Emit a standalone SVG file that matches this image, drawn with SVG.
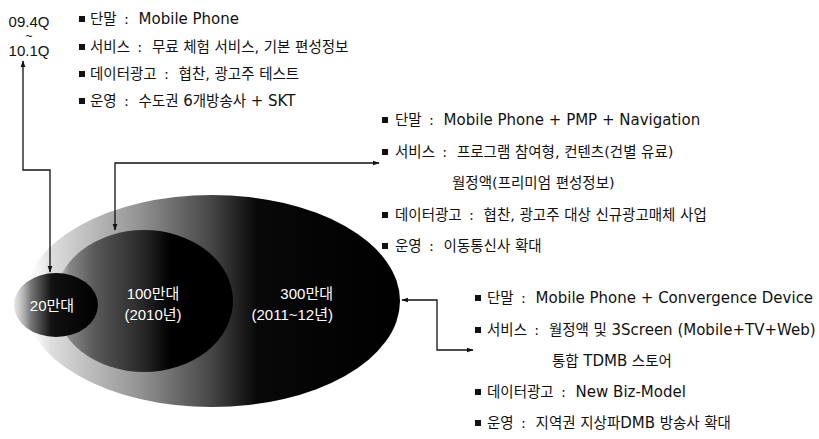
<svg xmlns="http://www.w3.org/2000/svg" width="819" height="439" viewBox="0 0 819 439">
<defs>
<style>
text{font-family:"DejaVu Sans","Noto Sans CJK KR",sans-serif;font-size:14.5px;fill:#111;dominant-baseline:central}
text.e{font-family:"Liberation Sans","Noto Sans CJK KR",sans-serif;font-size:15px;fill:#fff}
text.p{font-family:"Liberation Sans",sans-serif;font-size:15px}
text.t{font-family:"Liberation Sans",sans-serif;font-size:12px}
.c{letter-spacing:2.6px}
.L{font-size:15px}
.b{fill:#111}
.ln{fill:none;stroke:#111;stroke-width:1.3}
</style>
<marker id="ah" viewBox="0 0 10 10" refX="9" refY="5" markerWidth="7" markerHeight="7" orient="auto-start-reverse" markerUnits="userSpaceOnUse">
<path d="M0,1.5 L10,5 L0,8.5 Z" fill="#111"/>
</marker>
<linearGradient id="gBig" x1="0" y1="0" x2="1" y2="0">
<stop offset="0" stop-color="#fff" stop-opacity="0"/>
<stop offset="0.07" stop-color="#dedede"/>
<stop offset="0.3" stop-color="#959595"/>
<stop offset="0.5" stop-color="#454545"/>
<stop offset="0.62" stop-color="#080808"/>
<stop offset="1" stop-color="#000"/>
</linearGradient>
<linearGradient id="gMid" x1="0" y1="0" x2="1" y2="0">
<stop offset="0" stop-color="#ccc" stop-opacity="0.6"/>
<stop offset="0.08" stop-color="#888"/>
<stop offset="0.22" stop-color="#5a5a5a"/>
<stop offset="0.5" stop-color="#262626"/>
<stop offset="0.65" stop-color="#000"/>
<stop offset="1" stop-color="#000"/>
</linearGradient>
<linearGradient id="gSm" x1="0" y1="0" x2="1" y2="0">
<stop offset="0" stop-color="#ccc" stop-opacity="0.5"/>
<stop offset="0.2" stop-color="#777"/>
<stop offset="0.45" stop-color="#111"/>
<stop offset="1" stop-color="#000"/>
</linearGradient>
</defs>
<rect width="819" height="439" fill="#fff"/>

<g id="ellipse-300">
<ellipse cx="212" cy="301" rx="188" ry="106" fill="url(#gBig)"/>
<text class="e" x="333" y="293" text-anchor="end">300만대</text>
<text class="e" x="333" y="314" text-anchor="end">(2011~12년)</text>
</g>
<g id="ellipse-100">
<ellipse cx="144" cy="301" rx="89" ry="71" fill="url(#gMid)"/>
<text class="e" x="153" y="293" text-anchor="middle">100만대</text>
<text class="e" x="153" y="314" text-anchor="middle">(2010년)</text>
</g>
<g id="ellipse-20">
<ellipse cx="56" cy="305" rx="42" ry="32" fill="url(#gSm)"/>
<text class="e" x="52" y="305" text-anchor="middle">20만대</text>
</g>

<g id="period">
<text class="p" x="29" y="21" text-anchor="middle">09.4Q</text>
<text class="t" x="29" y="35.5" text-anchor="middle">~</text>
<text class="p" x="29" y="50" text-anchor="middle">10.1Q</text>
</g>

<g id="stage1">
<rect class="b" x="79" y="16" width="6" height="6"/>
<text x="90" y="19">단말<tspan class="c"> : </tspan><tspan class="L">Mobile Phone</tspan></text>
<rect class="b" x="79" y="44" width="6" height="6"/>
<text x="90" y="47">서비스<tspan class="c"> : </tspan>무료 체험 서비스, 기본 편성정보</text>
<rect class="b" x="79" y="71" width="6" height="6"/>
<text x="90" y="74">데이터광고<tspan class="c"> : </tspan>협찬, 광고주 테스트</text>
<rect class="b" x="79" y="98" width="6" height="6"/>
<text x="90" y="101">운영<tspan class="c"> : </tspan>수도권 <tspan class="L">6</tspan>개방송사 <tspan class="L">+ SKT</tspan></text>
</g>

<g id="stage2">
<rect class="b" x="382" y="117" width="6" height="6"/>
<text x="395" y="120">단말<tspan class="c"> : </tspan><tspan class="L">Mobile Phone + PMP + Navigation</tspan></text>
<rect class="b" x="382" y="149" width="6" height="6"/>
<text x="395" y="152">서비스<tspan class="c"> : </tspan>프로그램 참여형, 컨텐츠(건별 유료)</text>
<text x="452" y="183">월정액(프리미엄 편성정보)</text>
<rect class="b" x="382" y="212" width="6" height="6"/>
<text x="395" y="215">데이터광고<tspan class="c"> : </tspan>협찬, 광고주 대상 신규광고매체 사업</text>
<rect class="b" x="382" y="243" width="6" height="6"/>
<text x="395" y="246">운영<tspan class="c"> : </tspan>이동통신사 확대</text>
</g>

<g id="stage3">
<rect class="b" x="475" y="295" width="6" height="6"/>
<text x="487" y="298">단말<tspan class="c"> : </tspan><tspan class="L">Mobile Phone + Convergence Device</tspan></text>
<rect class="b" x="475" y="327" width="6" height="6"/>
<text x="487" y="330">서비스<tspan class="c"> : </tspan>월정액 및 <tspan class="L">3Screen (Mobile+TV+Web)</tspan></text>
<text x="552" y="361">통합 <tspan class="L">TDMB</tspan> 스토어</text>
<rect class="b" x="475" y="389" width="6" height="6"/>
<text x="487" y="392">데이터광고<tspan class="c"> : </tspan><tspan class="L">New Biz-Model</tspan></text>
<rect class="b" x="475" y="420" width="6" height="6"/>
<text x="487" y="423">운영<tspan class="c"> : </tspan>지역권 지상파<tspan class="L">DMB</tspan> 방송사 확대</text>
</g>

<g id="connectors">
<path class="ln" d="M23,61 L23,170 L50,170 L50,272" marker-start="url(#ah)" marker-end="url(#ah)"/>
<path class="ln" d="M115,230 L115,163 L379,163" marker-start="url(#ah)" marker-end="url(#ah)"/>
<path class="ln" d="M402,300 L437,300 L437,350 L473,350" marker-start="url(#ah)" marker-end="url(#ah)"/>
</g>
</svg>
